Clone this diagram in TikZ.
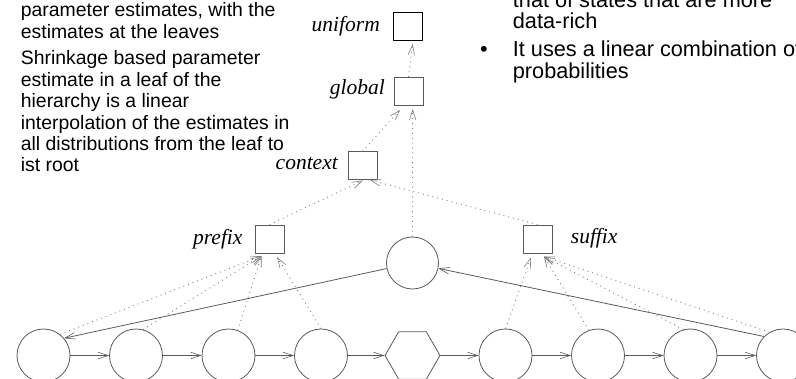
\documentclass[tikz,border=0pt]{standalone}
\usepackage{fontspec}
\setmainfont{Liberation Sans}
\newfontfamily\lblfont{Liberation Serif}
\usetikzlibrary{shapes.geometric,arrows.meta,calc}
\definecolor{edgegray}{RGB}{90,90,90}
\definecolor{dotgray}{RGB}{125,125,125}
\begin{document}
\begin{tikzpicture}[x=1pt,y=-1pt,
  txt/.style={anchor=base west, inner sep=0, font=\fontsize{19.4}{21.4}\selectfont},
  rtxt/.style={anchor=base west, inner sep=0, font=\fontsize{21.7}{22}\selectfont},
  lbl/.style={inner sep=0, font=\lblfont\itshape\fontsize{21.5}{24}\selectfont},
  state/.style={circle, draw=edgegray, line width=0.8pt, minimum size=53pt, inner sep=0},
  hexa/.style={regular polygon, regular polygon sides=6, draw=edgegray, line width=0.8pt, minimum size=55pt, inner sep=0},
  dist/.style={rectangle, draw=edgegray, line width=0.9pt, minimum width=29pt, minimum height=28pt, inner sep=0},
  tip/.style={-{Straight Barb[length=10pt,width=6.5pt,line width=0.6pt]}},
  solidarrow/.style={tip, draw=edgegray, line width=0.8pt},
  dotarrow/.style={tip, draw=dotgray, line width=0.9pt, dash pattern=on 0.9pt off 4pt},
]
\useasboundingbox (0,0) rectangle (796,379);
\clip (0,0) rectangle (796,379);

% left text
\node[txt] (t1) at (20.7,16.7) {parameter estimates, with the};
\node[txt] (t2) at (20.7,38.3) {estimates at the leaves};
\node[txt] (t3) at (20.7,65) {Shrinkage based parameter};
\node[txt] (t4) at (20.7,86.4) {estimate in a leaf of the};
\node[txt] (t5) at (20.7,107.8) {hierarchy is a linear};
\node[txt] (t6) at (20.7,129.2) {interpolation of the estimates in};
\node[txt] (t7) at (20.7,150.6) {all distributions from the leaf to};
\node[txt] (t8) at (20.7,172) {ist root};

% right text
\node[rtxt] (r1) at (512.7,7.3) {that of states that are more};
\node[rtxt] (r2) at (512.7,29) {data-rich};
\node[rtxt] (rb) at (480,56.7) {\textbullet};
\node[rtxt] (r3) at (512.7,56.7) {It uses a linear combination of};
\node[rtxt] (r4) at (512.7,79) {probabilities};

% distribution boxes
\node[dist, draw=black, line width=1.4pt] (uni) at (408,26.5) {};
\node[dist] (glob) at (408.5,91.5) {};
\node[dist] (ctx) at (362.5,165.7) {};
\node[dist] (pre) at (269.5,239) {};
\node[dist] (suf) at (537.5,239) {};

% labels
\node[lbl, anchor=base east] (luni) at (380,31.7) {uniform};
\node[lbl, anchor=base east] (lglob) at (385,95) {global};
\node[lbl, anchor=base east] (lctx) at (338,170) {context};
\node[lbl, anchor=base east] (lpre) at (242.7,245) {prefix};
\node[lbl, anchor=base west] (lsuf) at (570.7,244) {suffix};

% states
\node[state, minimum size=52pt] (mid) at (412.5,263) {};
\node[state] (c1) at (43.5,355.5) {};
\node[state] (c2) at (136,355.5) {};
\node[state] (c3) at (228.5,355.5) {};
\node[state] (c4) at (321,355.5) {};
\node[hexa] (c5) at (412.5,355.5) {};
\node[state] (c6) at (505.5,355.5) {};
\node[state] (c7) at (598,355.5) {};
\node[state] (c8) at (690.5,355.5) {};
\node[state] (c9) at (783,355.5) {};

% arrow end points
\coordinate (preA) at (261.5,256);
\coordinate (preB) at (277,257);
\coordinate (sufA) at (531,257.5);
\coordinate (sufB) at (544,256.5);
\coordinate (ctxA) at (363,180.5);
\coordinate (ctxB) at (370,180);
\coordinate (globA) at (400,110);
\coordinate (globB) at (412.7,109);
\coordinate (uniA) at (412.7,44);

% chain
\draw[solidarrow] (c1) -- (c2);
\draw[solidarrow] (c2) -- (c3);
\draw[solidarrow] (c3) -- (c4);
\draw[solidarrow] (c4) -- (c5);
\draw[solidarrow] (c5) -- (c6);
\draw[solidarrow] (c6) -- (c7);
\draw[solidarrow] (c7) -- (c8);
\draw[solidarrow] (c8) -- (c9);
\draw[solidarrow] (mid) -- (c1.40);
\draw[solidarrow] (c9.135) -- (mid);

% hierarchy
\draw[dotarrow] (c1.52) -- (preA);
\draw[dotarrow] (c2.75) -- (preA);
\draw[dotarrow] (c3.70) -- (preA);
\draw[dotarrow] (c4.90) -- (preB);
\draw[dotarrow] (c6.90) -- (sufA);
\draw[dotarrow] (c7.110) -- (sufB);
\draw[dotarrow] (c8.105) -- (sufB);
\draw[dotarrow] (c9.120) -- (sufB);
\draw[dotarrow] (pre.north) -- (ctxA);
\draw[dotarrow] (suf.north) -- (ctxB);
\draw[dotarrow] (ctx.north) -- (globA);
\draw[dotarrow] (mid.north) -- (globB);
\draw[dotarrow] (glob.north) -- (uniA);
\end{tikzpicture}
\end{document}
